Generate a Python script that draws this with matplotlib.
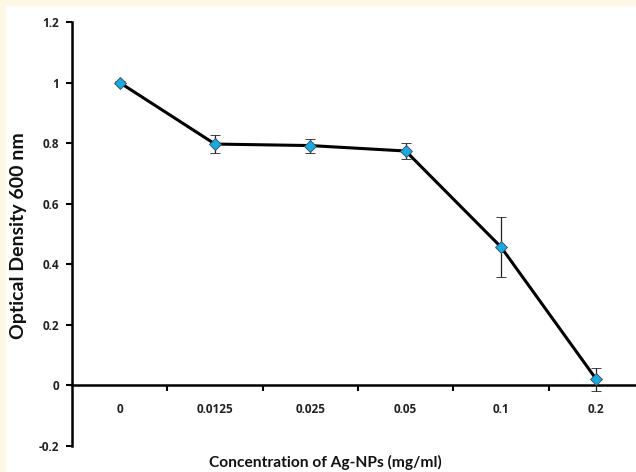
import matplotlib.pyplot as plt
from matplotlib.patches import Rectangle
from matplotlib.ticker import FixedLocator

conc = ['0', '0.0125', '0.025', '0.05', '0.1', '0.2']
od = [1.0, 0.797, 0.792, 0.774, 0.457, 0.02]
err = [0.006, 0.03, 0.023, 0.026, 0.1, 0.037]

fig = plt.figure(figsize=(6.36, 4.72), dpi=100)
fig.patch.set_facecolor('white')
# cream border along top and left edges
fig.patches.append(Rectangle((0, 1 - 5/472), 1, 5/472, transform=fig.transFigure,
                             color='#fdf8e6', zorder=-1))
fig.patches.append(Rectangle((0, 0), 5/636, 1, transform=fig.transFigure,
                             color='#fdf8e6', zorder=-1))

ax = fig.add_axes([72/636, 1 - 446/472, 572/636, 424/472])
x = list(range(len(conc)))
ax.errorbar(x, od, yerr=err, color='black', lw=2.2, marker='D', ms=6,
            mfc='#1aa9e0', mec='#3a4a55', mew=0.6, ecolor='#222222',
            elinewidth=0.9, capsize=3.5, capthick=0.9, zorder=3)

ax.set_xlim(-0.5, 5.5)
ax.set_ylim(-0.2, 1.2)
ax.set_yticks([-0.2, 0, 0.2, 0.4, 0.6, 0.8, 1.0, 1.2])
ax.set_yticklabels(['-0.2', '0', '0.2', '0.4', '0.6', '0.8', '1', '1.2'])
ax.set_xticks(x)
ax.set_xticklabels(conc)
ax.xaxis.set_minor_locator(FixedLocator([0.5, 1.5, 2.5, 3.5, 4.5]))

for s in ['top', 'right']:
    ax.spines[s].set_visible(False)
ax.spines['bottom'].set_position(('data', 0))
ax.spines['left'].set_linewidth(1.8)
ax.spines['bottom'].set_linewidth(1.8)

ax.tick_params(axis='y', direction='out', length=4, width=1.5, pad=5,
               labelsize=8.5, labelcolor='#222222')
ax.tick_params(axis='x', which='major', length=0, pad=13,
               labelsize=8.5, labelcolor='#222222')
ax.tick_params(axis='x', which='minor', direction='out', length=4, width=1.5)
for lab in ax.get_xticklabels() + ax.get_yticklabels():
    lab.set_fontweight('bold')
    lab.set_family('Open Sans')

fig.text(19/636, 1 - 236/472, 'Optical Density 600 nm', rotation=90,
         ha='center', va='center', fontsize=14, fontweight='bold',
         family='Lato', color='#111111')
fig.text(325/636, 1 - 462/472, 'Concentration of Ag-NPs (mg/ml)',
         ha='center', va='center', fontsize=11.2, fontweight='bold',
         family='Lato', color='#111111')

fig.savefig('out.png', dpi=100)
